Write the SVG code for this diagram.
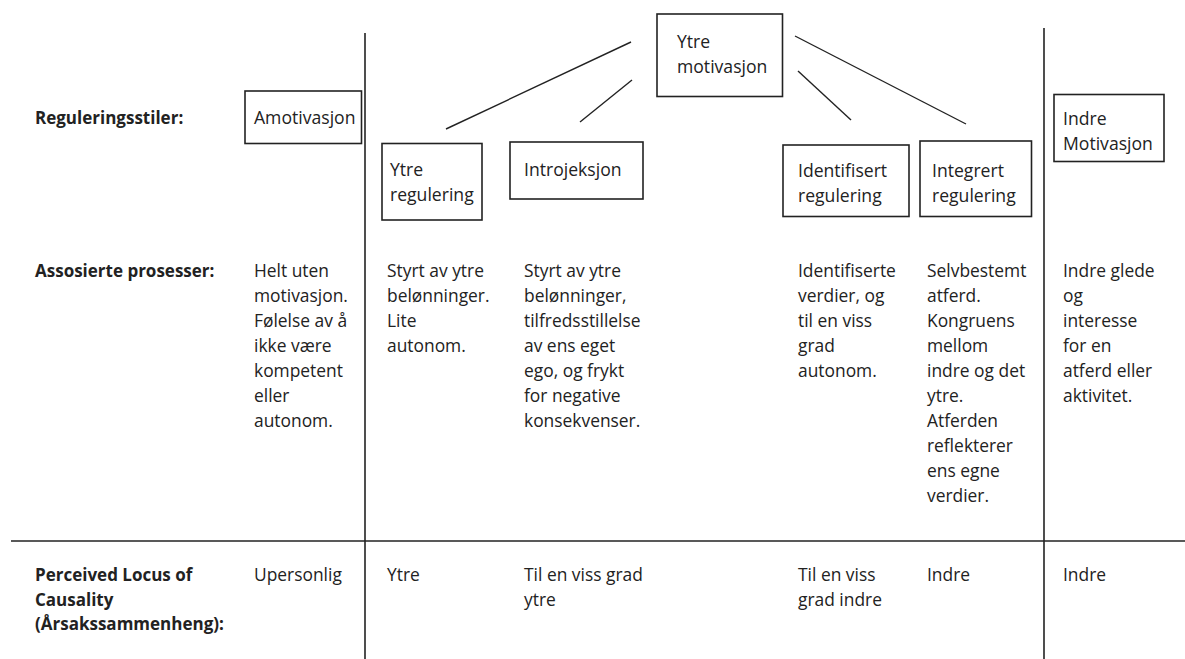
<svg xmlns="http://www.w3.org/2000/svg" width="1185" height="659" viewBox="0 0 1185 659">
<style>
text{font-family:"Open Sans","Noto Sans","Liberation Sans",sans-serif;font-size:17.4px;fill:#222}
.b{font-weight:bold;font-size:17px}
.bx{fill:#fff;stroke:#222;stroke-width:1.6}
.ln{stroke:#222;stroke-width:1.6;fill:none}
.c{stroke:#222;stroke-width:1.4;fill:none}
.lbl{font-size:17.6px}
</style>
<rect width="1185" height="659" fill="#fff"/>
<g id="grid">
<line class="ln" x1="365" y1="33" x2="365" y2="659"/>
<line class="ln" x1="1044" y1="28" x2="1044" y2="659"/>
<line class="ln" x1="11" y1="541" x2="1185" y2="541"/>
</g>
<g id="connectors">
<line class="c" x1="446" y1="129" x2="631" y2="42"/>
<line class="c" x1="580" y1="122" x2="632" y2="80"/>
<line class="c" x1="795" y1="36" x2="966" y2="124"/>
<line class="c" x1="798" y1="71" x2="851" y2="120"/>
</g>
<g id="row-labels">
<text class="b" x="35" y="124">Reguleringsstiler:</text>
<text class="b" x="35" y="277">Assosierte prosesser:</text>
<text class="b" x="35" y="581">Perceived Locus of<tspan x="35" y="605.5">Causality</tspan><tspan x="35" y="630">(Årsakssammenheng):</tspan></text>
</g>
<g id="amotivasjon">
<rect class="bx" x="245" y="91" width="116.5" height="52.5"/>
<text class="lbl" x="254" y="124">Amotivasjon</text>
</g>
<g id="ytre-motivasjon">
<rect class="bx" x="657" y="14" width="125.5" height="82.5"/>
<text class="lbl" x="677" y="48">Ytre<tspan x="677" y="73">motivasjon</tspan></text>
</g>
<g id="ytre-regulering">
<rect class="bx" x="382" y="143.5" width="100" height="76.5"/>
<text class="lbl" x="390" y="176">Ytre<tspan x="390" y="201">regulering</tspan></text>
</g>
<g id="introjeksjon">
<rect class="bx" x="510" y="142" width="133" height="57"/>
<text class="lbl" x="524" y="176">Introjeksjon</text>
</g>
<g id="identifisert-regulering">
<rect class="bx" x="783" y="145" width="126" height="71.5"/>
<text class="lbl" x="798" y="177">Identifisert<tspan x="798" y="202">regulering</tspan></text>
</g>
<g id="integrert-regulering">
<rect class="bx" x="920" y="141" width="111.5" height="75.5"/>
<text class="lbl" x="932" y="177">Integrert<tspan x="932" y="202">regulering</tspan></text>
</g>
<g id="indre-motivasjon">
<rect class="bx" x="1054" y="94.5" width="110" height="67"/>
<text class="lbl" x="1063" y="125">Indre<tspan x="1063" y="150">Motivasjon</tspan></text>
</g>
<g id="prosesser">
<text x="254" y="277">Helt uten<tspan x="254" y="302">motivasjon.</tspan><tspan x="254" y="327">Følelse av å</tspan><tspan x="254" y="352">ikke være</tspan><tspan x="254" y="377">kompetent</tspan><tspan x="254" y="402">eller</tspan><tspan x="254" y="427">autonom.</tspan></text>
<text x="387" y="277">Styrt av ytre<tspan x="387" y="302">belønninger.</tspan><tspan x="387" y="327">Lite</tspan><tspan x="387" y="352">autonom.</tspan></text>
<text x="524" y="277">Styrt av ytre<tspan x="524" y="302">belønninger,</tspan><tspan x="524" y="327">tilfredsstillelse</tspan><tspan x="524" y="352">av ens eget</tspan><tspan x="524" y="377">ego, og frykt</tspan><tspan x="524" y="402">for negative</tspan><tspan x="524" y="427">konsekvenser.</tspan></text>
<text x="798" y="277">Identifiserte<tspan x="798" y="302">verdier, og</tspan><tspan x="798" y="327">til en viss</tspan><tspan x="798" y="352">grad</tspan><tspan x="798" y="377">autonom.</tspan></text>
<text x="927" y="277">Selvbestemt<tspan x="927" y="302">atferd.</tspan><tspan x="927" y="327">Kongruens</tspan><tspan x="927" y="352">mellom</tspan><tspan x="927" y="377">indre og det</tspan><tspan x="927" y="402">ytre.</tspan><tspan x="927" y="427">Atferden</tspan><tspan x="927" y="452">reflekterer</tspan><tspan x="927" y="477">ens egne</tspan><tspan x="927" y="502">verdier.</tspan></text>
<text x="1063" y="277">Indre glede<tspan x="1063" y="302">og</tspan><tspan x="1063" y="327">interesse</tspan><tspan x="1063" y="352">for en</tspan><tspan x="1063" y="377">atferd eller</tspan><tspan x="1063" y="402">aktivitet.</tspan></text>
</g>
<g id="locus">
<text x="254" y="581">Upersonlig</text>
<text x="387" y="581">Ytre</text>
<text x="524" y="581">Til en viss grad<tspan x="524" y="605.5">ytre</tspan></text>
<text x="798" y="581">Til en viss<tspan x="798" y="605.5">grad indre</tspan></text>
<text x="927" y="581">Indre</text>
<text x="1063" y="581">Indre</text>
</g>
</svg>
